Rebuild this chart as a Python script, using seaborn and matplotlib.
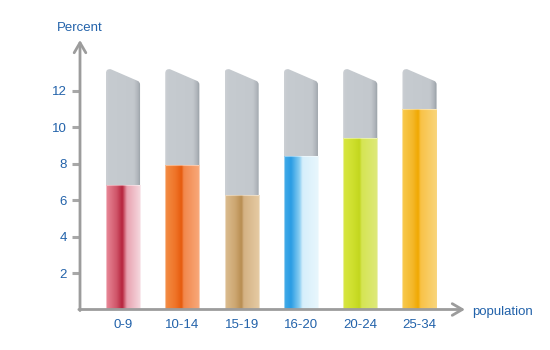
import numpy as np
import matplotlib
matplotlib.use('Agg')
import matplotlib.pyplot as plt
import seaborn as sns
import pandas as pd
from matplotlib.colors import LinearSegmentedColormap
from matplotlib.path import Path
from matplotlib.patches import PathPatch

# ---- data ----
categories = ['0-9', '10-14', '15-19', '16-20', '20-24', '25-34']
values = [6.8, 7.9, 6.3, 8.4, 9.4, 11.0]
tube_height = 13.2
y_ticks = [2, 4, 6, 8, 10, 12]
x_title = 'population'
y_title = 'Percent'

# ---- styles ----
base_colors = ['#d35a6c', '#ee7025', '#caa672', '#6cc2ee', '#d2e235', '#f6bd2e']
gradients = [
    [(0, '#e98898'), (0.3, '#d0566a'), (0.47, '#b5223b'), (0.53, '#cf6072'), (0.6, '#e8a2b0'), (1, '#f6dbe1')],
    [(0, '#f38d45'), (0.3, '#ef7428'), (0.48, '#e65a0c'), (0.53, '#f2874a'), (1, '#f8aa7c')],
    [(0, '#dcbd90'), (0.3, '#cca670'), (0.48, '#b78c50'), (0.53, '#d4b183'), (1, '#e6cca4')],
    [(0, '#42aae8'), (0.2, '#2a9ce4'), (0.45, '#8ccff2'), (0.53, '#d6effb'), (1, '#e9f7fd')],
    [(0, '#d8e642'), (0.3, '#cddf2c'), (0.48, '#c2d61e'), (0.53, '#d5e553'), (1, '#dee97c')],
    [(0, '#f9ca4e'), (0.3, '#f4b82a'), (0.47, '#f0a800'), (0.53, '#f8c246'), (1, '#f9d57c')],
]
tube_gradient = [(0, '#cdd1d5'), (0.08, '#c6cbd0'), (0.8, '#c3c8cd'), (0.92, '#aeb4ba'), (1, '#959ca3')]
text_blue = '#2262aa'
axis_gray = '#9c9c9c'
bar_width = 0.575
slant_drop = 0.72

sns.set_theme(style='white')
plt.rcParams['font.family'] = ['Liberation Sans', 'DejaVu Sans']

fig = plt.figure(figsize=(5.5, 3.5), dpi=100)
ax = fig.add_axes([80 / 550, 40.5 / 350, 385 / 550, 269.5 / 350])

df = pd.DataFrame({'category': categories, 'value': values,
                   'tube': [tube_height] * len(categories)})

sns.barplot(data=df, x='category', y='tube', order=categories, color='#c4c9ce',
            width=bar_width, ax=ax)
n_tube = len(ax.patches)
sns.barplot(data=df, x='category', y='value', order=categories, hue='category',
            palette=base_colors, width=bar_width, legend=False, ax=ax)

grad = np.linspace(0, 1, 256).reshape(1, -1)
tube_cmap = LinearSegmentedColormap.from_list('tube', tube_gradient)

# tubes with slanted, rounded top
for p in ax.patches[:n_tube]:
    x0, w, h = p.get_x(), p.get_width(), p.get_height()
    x1 = x0 + w
    rx, ry = w * 0.14, 0.25
    slope = slant_drop / w
    verts = [(x0, 0), (x0, h - ry), (x0, h), (x0 + rx, h - slope * rx * 0.3),
             (x1 - rx * 0.5, h - slant_drop + slope * rx * 0.5), (x1, h - slant_drop),
             (x1, h - slant_drop - ry * 0.6), (x1, 0), (x0, 0)]
    codes = [Path.MOVETO, Path.LINETO, Path.CURVE3, Path.CURVE3, Path.LINETO,
             Path.CURVE3, Path.CURVE3, Path.LINETO, Path.CLOSEPOLY]
    clip = PathPatch(Path(verts, codes), facecolor='none', edgecolor='none',
                     transform=ax.transData)
    ax.add_patch(clip)
    im = ax.imshow(grad, cmap=tube_cmap, extent=[x0, x1, 0, h], aspect='auto',
                   interpolation='bicubic', zorder=1)
    im.set_clip_path(clip)
    p.set_visible(False)

# coloured gradient bars
for p, stops in zip(ax.patches[n_tube:n_tube + len(categories)], gradients):
    x0, w, h = p.get_x(), p.get_width(), p.get_height()
    cmap = LinearSegmentedColormap.from_list('g', stops)
    im = ax.imshow(grad, cmap=cmap, extent=[x0, x0 + w, 0, h], aspect='auto',
                   interpolation='bicubic', zorder=2)
    im.set_clip_path(p)
    p.set_facecolor('none')
    p.set_edgecolor((1, 1, 1, 0.45))
    p.set_linewidth(0.8)
    p.set_zorder(3)

ax.set_xlim(-0.725, 5.767)
ax.set_ylim(0, 14.77)
for s in ax.spines.values():
    s.set_visible(False)
ax.set_xlabel('')
ax.set_ylabel('')
ax.set_yticks(y_ticks)
ax.set_yticklabels([str(t) for t in y_ticks])
ax.tick_params(axis='y', left=True, length=6, width=2.2, color='#a8a8a8', pad=3.5,
               labelsize=9.5, labelcolor=text_blue)
ax.tick_params(axis='x', bottom=False, length=0, pad=7, labelsize=9.5,
               labelcolor=text_blue)
ax.grid(False)

arrow = dict(arrowstyle='->,head_length=0.6,head_width=0.35', color=axis_gray, lw=2,
             shrinkA=0, shrinkB=0)
ax.annotate('', xy=(0, 1), xytext=(0, -0.004), xycoords='axes fraction',
            arrowprops=arrow, annotation_clip=False, zorder=5)
ax.annotate('', xy=(1, 0), xytext=(-0.003, 0), xycoords='axes fraction',
            arrowprops=arrow, annotation_clip=False, zorder=5)

ax.text(1.018, -0.008, x_title, transform=ax.transAxes, ha='left', va='center',
        fontsize=9.5, color=text_blue)
ax.text(-0.06, 1.044, y_title, transform=ax.transAxes, ha='left', va='center',
        fontsize=9.5, color=text_blue)

fig.savefig('out.png', dpi=100)
